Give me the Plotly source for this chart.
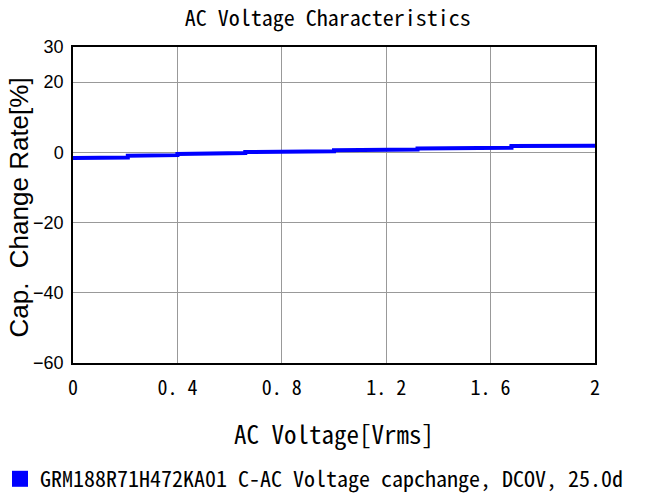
import plotly.graph_objects as go

x_vrms = [0.0, 0.21, 0.21, 0.40, 0.40, 0.66, 0.66, 1.00, 1.00, 1.32, 1.32, 1.68, 1.68, 2.00]
cap_change = [-1.6, -1.5, -1.0, -0.8, -0.5, -0.2, 0.1, 0.3, 0.6, 0.8, 1.1, 1.3, 1.8, 1.9]
x_ticks = [0, 0.4, 0.8, 1.2, 1.6, 2]
x_tick_text = ["0", "0. 4", "0. 8", "1. 2", "1. 6", "2"]
y_ticks = [-60, -40, -20, 0, 20, 30]
series_name = "GRM188R71H472KA01 C-AC Voltage capchange, DCOV, 25.0d"
y_title = "Cap.  Change Rate[%]"

mono = "Noto Sans Mono CJK JP, Liberation Mono, monospace"
narrow = "Liberation Sans Narrow, Liberation Sans, Arial"

fig = go.Figure()
fig.add_trace(go.Scatter(x=x_vrms, y=cap_change, mode="lines",
                         line=dict(color="#0000ff", width=4), showlegend=False))
fig.add_trace(go.Scatter(x=[None], y=[None], mode="markers", name=series_name,
                         marker=dict(symbol="square", color="#0000ff", size=20)))

fig.add_annotation(text=y_title, xref="paper", yref="paper", x=0, y=0.492,
                   xanchor="center", yanchor="middle", xshift=-54, textangle=-90,
                   showarrow=False, font=dict(family=narrow, size=26, color="black"))

fig.update_layout(
    width=645, height=497,
    margin=dict(l=73, r=50, t=47, b=134, autoexpand=False),
    paper_bgcolor="white", plot_bgcolor="white",
    title=dict(text="AC Voltage Characteristics", x=0.508, xanchor="center",
               y=1 - 18 / 497, yanchor="middle",
               font=dict(family=mono, size=22, color="black")),
    xaxis=dict(range=[0, 2], tickvals=x_ticks, ticktext=x_tick_text,
               showgrid=True, gridcolor="#999999", gridwidth=1,
               showline=True, linecolor="black", linewidth=1.5, mirror=True,
               ticks="", zeroline=False, ticklabelstandoff=6,
               tickfont=dict(family=mono, size=20, color="black"),
               title=dict(text="AC Voltage[Vrms]", standoff=27,
                          font=dict(family=mono, size=25, color="black"))),
    yaxis=dict(range=[-60, 30], tickvals=y_ticks,
               showgrid=True, gridcolor="#999999", gridwidth=1,
               showline=True, linecolor="black", linewidth=1.5, mirror=True,
               ticks="", zeroline=False, ticklabelstandoff=4,
               tickfont=dict(family=narrow, size=18, color="black")),
    legend=dict(orientation="h", xref="container", yref="container",
                x=0, xanchor="left", y=18 / 497, yanchor="middle",
                font=dict(family=mono, size=22, color="black"),
                bgcolor="rgba(0,0,0,0)"),
)

fig.write_html("out.html", config={"displayModeBar": False},
               post_script="document.body.style.margin='0';")
